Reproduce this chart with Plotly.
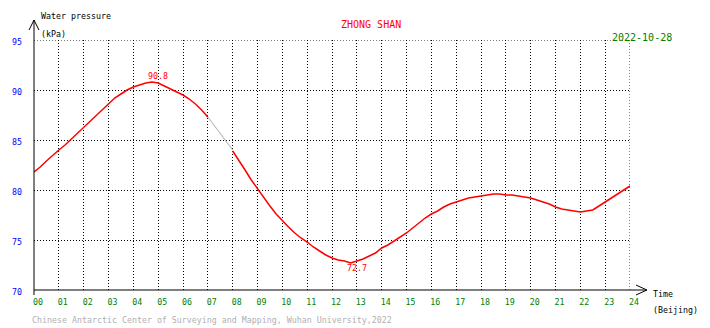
import plotly.graph_objects as go

# Water pressure at Zhong Shan station, 2022-10-28 (Beijing time), kPa
hours_red_a = [0.0, 0.25, 0.5, 0.75, 1.0, 1.25, 1.5, 1.75, 2.0, 2.25, 2.5, 2.75,
               3.0, 3.25, 3.5, 3.75, 4.0, 4.25, 4.5, 4.75, 5.0, 5.25, 5.5, 5.75,
               6.0, 6.25, 6.5, 6.75, 7.0]
kpa_red_a = [81.8, 82.3, 82.9, 83.5, 84.0, 84.5, 85.1, 85.7, 86.3, 86.9, 87.5, 88.1,
             88.7, 89.2, 89.6, 90.0, 90.3, 90.5, 90.7, 90.8, 90.7, 90.4, 90.1, 89.8,
             89.5, 89.1, 88.6, 88.0, 87.3]

# interval without measurements, bridged in gray
hours_gap = [7.0, 7.25, 7.5, 7.75, 8.0]
kpa_gap = [87.3, 86.5, 85.7, 84.9, 84.0]

hours_red_b = [8.0, 8.25, 8.5, 8.75, 9.0, 9.25, 9.5, 9.75, 10.0, 10.25, 10.5, 10.75,
               11.0, 11.25, 11.5, 11.75, 12.0, 12.25, 12.5, 12.75, 13.0, 13.25, 13.5, 13.75,
               14.0, 14.25, 14.5, 14.75, 15.0, 15.25, 15.5, 15.75, 16.0, 16.25, 16.5, 16.75,
               17.0, 17.25, 17.5, 17.75, 18.0, 18.25, 18.5, 18.75, 19.0, 19.25, 19.5, 19.75,
               20.0, 20.25, 20.5, 20.75, 21.0, 21.25, 21.5, 21.75, 22.0, 22.25, 22.5, 22.75,
               23.0, 23.25, 23.5, 23.75, 24.0]
kpa_red_b = [83.9, 83.0, 82.0, 81.0, 80.1, 79.2, 78.4, 77.6, 76.9, 76.3, 75.7, 75.2,
             74.8, 74.3, 73.9, 73.5, 73.2, 73.0, 72.9, 72.7, 72.9, 73.1, 73.4, 73.7,
             74.2, 74.5, 74.9, 75.3, 75.7, 76.2, 76.7, 77.2, 77.6, 77.9, 78.3, 78.6,
             78.8, 79.0, 79.2, 79.3, 79.4, 79.5, 79.6, 79.6, 79.5, 79.5, 79.4, 79.3,
             79.2, 79.0, 78.8, 78.6, 78.3, 78.1, 78.0, 77.9, 77.8, 77.9, 78.0, 78.4,
             78.8, 79.2, 79.6, 80.0, 80.4]

hour_ticks = list(range(0, 25))
hour_labels = [f"{h:02d}" for h in hour_ticks]
kpa_ticks = [70, 75, 80, 85, 90, 95]

station = "ZHONG SHAN"
date_text = "2022-10-28"
credit = "Chinese Antarctic Center of Surveying and Mapping, Wuhan University,2022"

FONT = "DejaVu Sans Mono"
RED = "#ff0000"
GREEN = "#008000"
BLUE = "#0000ff"
SMALL = 8.3

W, H = 710, 328
L, R, T, B = 30, 630, 40, 290  # plot area in pixels


def px(x):
    return (x - L) / (R - L)


def py(y):
    return (B - y) / (B - T)


fig = go.Figure()
fig.add_trace(go.Scatter(x=hours_gap, y=kpa_gap, mode="lines",
                         line=dict(color="#bdbdbd", width=1.2), hoverinfo="skip"))
fig.add_trace(go.Scatter(x=hours_red_a, y=kpa_red_a, mode="lines",
                         line=dict(color=RED, width=1.5)))
fig.add_trace(go.Scatter(x=hours_red_b, y=kpa_red_b, mode="lines",
                         line=dict(color=RED, width=1.5)))

# extreme values
all_h = hours_red_a + hours_red_b
all_v = kpa_red_a + kpa_red_b
vmax = max(all_v)
vmin = min(all_v)
hmax = all_h[all_v.index(vmax)]
hmin = all_h[all_v.index(vmin)]

small = dict(family=FONT, size=SMALL, color="black")


def label(x, y, text, font, shift=-3):
    return dict(x=px(x), y=py(y), xref="paper", yref="paper", text=text,
                showarrow=False, xanchor="left", yanchor="middle", xshift=shift,
                font=font)


annotations = [
    dict(x=hmax, y=vmax, xref="x", yref="y", text=f"{vmax:.1f}", showarrow=False,
         xanchor="left", yanchor="bottom", xshift=-6, yshift=-1,
         font=dict(family=FONT, size=SMALL, color=RED)),
    dict(x=hmin, y=vmin, xref="x", yref="y", text=f"{vmin:.1f}", showarrow=False,
         xanchor="left", yanchor="top", xshift=-6, yshift=2,
         font=dict(family=FONT, size=SMALL, color=RED)),
    label(40, 16, "Water pressure", small, -5),
    label(40, 34, "(kPa)", small, -5),
    label(340, 25, station, dict(family=FONT, size=10, color=RED)),
    label(611, 37, date_text, dict(family=FONT, size=10, color=GREEN), -1),
    label(654, 294, "Time", small),
    label(654, 310, "(Beijing)", small),
    label(30, 320, credit, dict(family=FONT, size=SMALL, color="#b0b0b0"), -4),
]

axis_line = dict(color="black", width=1)
edge_grid = dict(color="black", width=1, dash="1px,2px")
shapes = [
    # grid lines on the far edges of the plot area
    dict(type="line", xref="x", yref="y", x0=24, y0=70, x1=24, y1=95, line=edge_grid, layer="below"),
    dict(type="line", xref="x", yref="y", x0=0, y0=95, x1=24, y1=95, line=edge_grid, layer="below"),
    # y axis with open arrowhead
    dict(type="line", xref="paper", yref="paper", x0=px(30), y0=py(295), x1=px(30), y1=py(20), line=axis_line),
    dict(type="line", xref="paper", yref="paper", x0=px(25), y0=py(30), x1=px(30), y1=py(20), line=axis_line),
    dict(type="line", xref="paper", yref="paper", x0=px(35), y0=py(30), x1=px(30), y1=py(20), line=axis_line),
    # x axis with open arrowhead
    dict(type="line", xref="paper", yref="paper", x0=px(30), y0=py(290), x1=px(647), y1=py(290), line=axis_line),
    dict(type="line", xref="paper", yref="paper", x0=px(636), y0=py(285), x1=px(647), y1=py(290), line=axis_line),
    dict(type="line", xref="paper", yref="paper", x0=px(636), y0=py(295), x1=px(647), y1=py(290), line=axis_line),
]

fig.update_layout(
    width=W, height=H, autosize=False,
    margin=dict(l=L, r=W - R, t=T, b=H - B, pad=0),
    paper_bgcolor="white", plot_bgcolor="white",
    showlegend=False,
    annotations=annotations,
    shapes=shapes,
    xaxis=dict(range=[0, 24], tickvals=hour_ticks, ticktext=hour_labels,
               showgrid=True, gridcolor="black", gridwidth=1, griddash="1px,2px",
               zeroline=False, showline=False, ticks="",
               ticklabelshift=4, ticklabelstandoff=6,
               tickfont=dict(family=FONT, size=SMALL, color=GREEN), fixedrange=True),
    yaxis=dict(range=[70, 95], tickvals=kpa_ticks,
               showgrid=True, gridcolor="black", gridwidth=1, griddash="1px,2px",
               zeroline=False, showline=False, ticks="",
               ticklabelshift=2, ticklabelstandoff=11,
               tickfont=dict(family=FONT, size=SMALL, color=BLUE), fixedrange=True),
)

fig.write_html("out.html", config=dict(displayModeBar=False))
